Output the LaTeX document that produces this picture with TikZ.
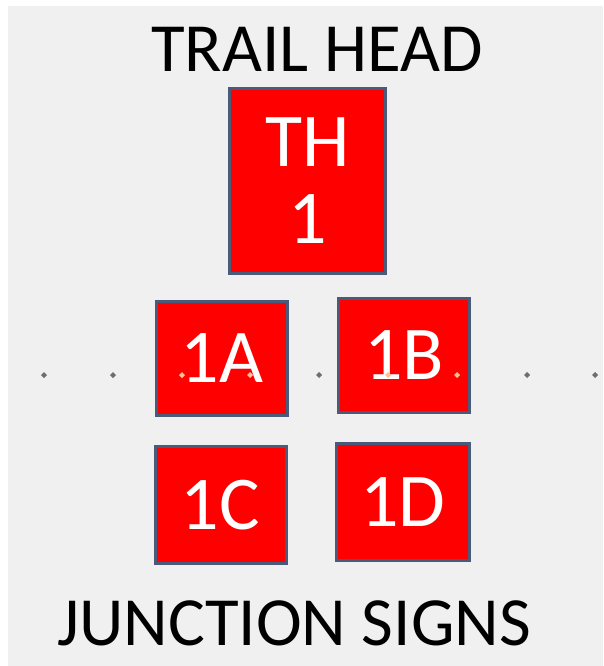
\documentclass[tikz,border=0pt]{standalone}
\usepackage{fontspec}
\setmainfont{Carlito}
\definecolor{signred}{RGB}{255,0,0}
\definecolor{signedge}{RGB}{74,90,122}
\definecolor{panel}{RGB}{240,240,240}
\definecolor{dotgray}{RGB}{110,110,110}
\definecolor{dotpale}{RGB}{255,190,150}

\begin{document}
\begin{tikzpicture}[x=1pt,y=-1pt,
  sign/.style={draw=signedge,fill=signred,line width=3pt,text=white,
    font=\fontsize{76}{77}\selectfont,inner sep=0pt,align=center},
  smallsign/.style={sign,minimum width=131pt,minimum height=114pt},
  heading/.style={font=\fontsize{69}{69}\selectfont,anchor=base}]
\useasboundingbox (0,0) rectangle (603,666);
\fill[white] (0,0) rectangle (603,666);
\fill[panel] (8,6) rectangle (603,666);
% headings
\node[heading] (trail) at (317,72) {TRAIL HEAD};
\node[heading] (junction) at (294,645) {JUNCTION SIGNS};
% signs
\node[sign,minimum width=156pt,minimum height=185pt] (th) at (307.5,181) {TH\\1};
\node[smallsign] (s1a) at (222,358.5) {1A};
\node[smallsign] (s1b) at (404,355) {1B};
\node[smallsign,minimum height=117pt] (s1c) at (220.5,505) {1C};
\node[smallsign,minimum width=133pt,minimum height=117pt] (s1d) at (403,502) {1D};
% guide dots
\foreach \x in {44,113,319,527,595}
  \fill[dotgray] (\x-3,375) -- (\x,372) -- (\x+3,375) -- (\x,378) -- cycle;
\foreach \x in {182,250,388,457}
  \fill[dotpale] (\x-3,375) -- (\x,372) -- (\x+3,375) -- (\x,378) -- cycle;
\end{tikzpicture}
\end{document}
